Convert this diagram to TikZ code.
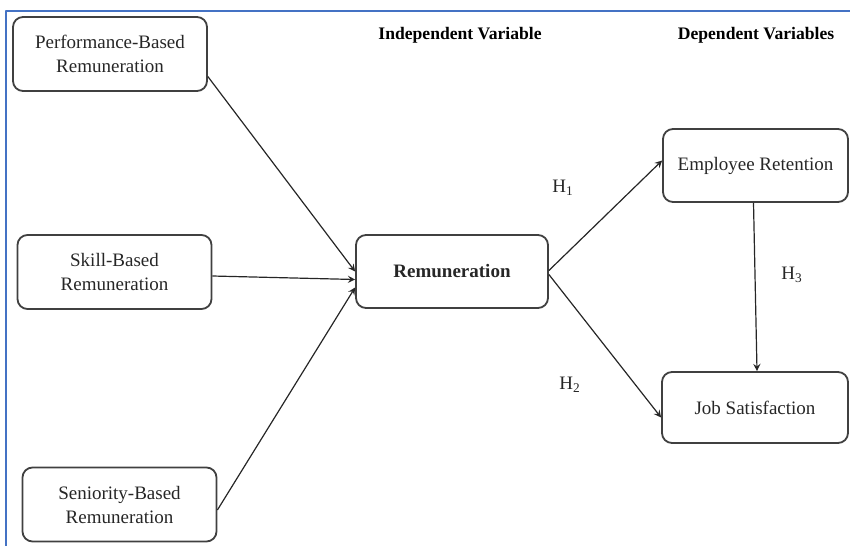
\documentclass[tikz,border=0pt]{standalone}
\usepackage{fontspec}
\setmainfont{Liberation Serif}
\definecolor{frameblue}{HTML}{4472C4}
\begin{document}
\begin{tikzpicture}[>=stealth,line join=round,x=0.5pt,y=-0.5pt,
	font=\fontsize{9.5}{12}\selectfont,
	box/.style={draw=black!75,line width=0.9pt,rounded corners=5pt,align=center,
		inner sep=0pt,minimum width=97pt,minimum height=37pt,text=black!85},
	link/.style={->,line width=0.6pt,black!85},
	hyp/.style={text=black!85,inner sep=1pt}]
		\useasboundingbox (0,0) rectangle (850,546);
		\draw[frameblue,line width=1pt] (850,11)--(6,11)--(6,546);
		
		\node[font=\fontsize{8.8}{11}\selectfont\bfseries] (indep) at (460,35) {Independent Variable};
		\node[font=\fontsize{8.8}{11}\selectfont\bfseries] (dep) at (756,35) {Dependent Variables};
		
		\node[box] (perf) at (110,54) {Performance-Based\\Remuneration};
		\node[box] (skill) at (114.5,272) {Skill-Based\\Remuneration};
		\node[box] (senior) at (119.5,504.5) {Seniority-Based\\Remuneration};
		\node[box,minimum width=96pt,minimum height=36.5pt,font=\fontsize{9.5}{12}\selectfont\bfseries] (remun) at (452,271.5) {Remuneration};
		\node[box,minimum width=92.5pt,minimum height=36.5pt] (emp) at (755.5,165.5) {Employee Retention};
		\node[box,minimum width=93pt,minimum height=35.5pt] (job) at (755,407.5) {Job Satisfaction};
		
		\draw[link] (perf.-13)--(remun.west);
		\draw[link] ([yshift=-2pt]skill.east)--([yshift=-4pt]remun.west);
		\draw[link] ([yshift=-2.75pt]senior.east)--([yshift=-8pt]remun.west);
		\draw[link] ([yshift=0.5pt]remun.east)--([yshift=2.5pt]emp.west);
		\draw[link] ([yshift=-1.5pt]remun.east)--([yshift=-5pt]job.west);
		\draw[link] ([xshift=-1pt]emp.south)--([xshift=1pt]job.north);
		
		\node[hyp] (h1) at (563,188) {H\textsubscript{1}};
		\node[hyp] (h2) at (570,385) {H\textsubscript{2}};
		\node[hyp] (h3) at (792,275) {H\textsubscript{3}};
		\end{tikzpicture}
\end{document}
